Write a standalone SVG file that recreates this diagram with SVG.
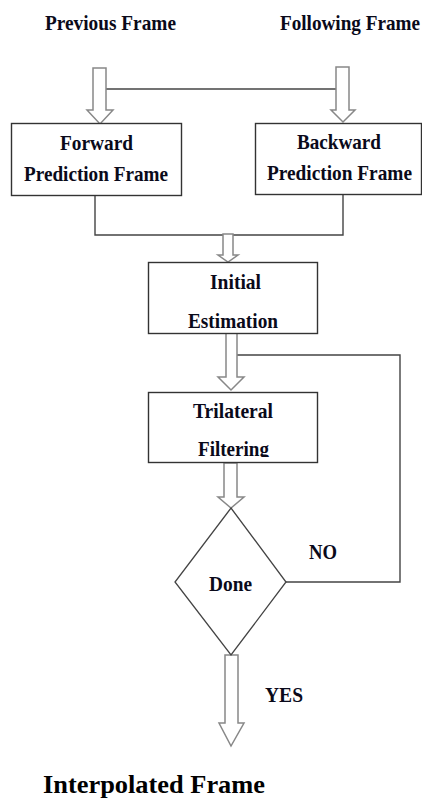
<svg xmlns="http://www.w3.org/2000/svg" width="422" height="798" viewBox="0 0 422 798">
<style>
text{font-family:"Liberation Serif","Times New Roman",serif;font-weight:bold;font-size:21px;fill:#0a0a1a;}
.big{font-size:25px;fill:#000;}
.box{fill:#fff;stroke:#333;stroke-width:1.4;}
.ln{fill:none;stroke:#444;stroke-width:1.4;}
.ba{fill:#fff;stroke:#888;stroke-width:1.5;stroke-linejoin:miter;}
</style>
<defs>
<clipPath id="clipF"><rect x="148" y="392" width="170" height="65"/></clipPath>
</defs>
<rect width="422" height="798" fill="#fff"/>

<g id="prev-label"><text x="45" y="30" textLength="131" lengthAdjust="spacingAndGlyphs">Previous Frame</text></g>
<g id="next-label"><text x="280" y="30" textLength="140" lengthAdjust="spacingAndGlyphs">Following Frame</text></g>

<g id="connectors">
<polyline class="ln" points="106,89 336,89"/>
<polyline class="ln" points="95,196 95,235 343,235 343,194"/>
<polyline class="ln" points="237,355 400,355 400,582 286,582"/>
<polygon class="ba" points="93,68 106,68 106,110 113,110 100,124 87,110 93,110"/>
<polygon class="ba" points="336,67 349,67 349,110 355,110 343,122 331,110 336,110"/>
<polygon class="ba" points="223,234 233,234 233,255 238,255 228,262 218,255 223,255"/>
<polygon class="ba" points="226,333 237,333 237,377 244,377 231,390 218,377 226,377"/>
<polygon class="ba" points="224,463 237,463 237,497 244,497 231,508 218,497 224,497"/>
<polygon class="ba" points="225,655 238,655 238,723 244,723 231,746 219,723 225,723"/>
</g>

<g id="forward">
<rect class="box" x="11.5" y="123.5" width="170" height="72"/>
<text x="60" y="150" textLength="73" lengthAdjust="spacingAndGlyphs">Forward</text>
<text x="24" y="181" textLength="144" lengthAdjust="spacingAndGlyphs">Prediction Frame</text>
</g>

<g id="backward">
<rect class="box" x="255.5" y="123.5" width="166" height="71"/>
<text x="297" y="149" textLength="84" lengthAdjust="spacingAndGlyphs">Backward</text>
<text x="267" y="180" textLength="145" lengthAdjust="spacingAndGlyphs">Prediction Frame</text>
</g>

<g id="initial">
<rect class="box" x="148.5" y="262.5" width="169" height="71"/>
<text x="210" y="289" textLength="51" lengthAdjust="spacingAndGlyphs">Initial</text>
<text x="188" y="328" textLength="90" lengthAdjust="spacingAndGlyphs">Estimation</text>
</g>

<g id="trilateral">
<rect class="box" x="148.5" y="392.5" width="169" height="70"/>
<text x="193" y="418" textLength="80" lengthAdjust="spacingAndGlyphs">Trilateral</text>
<text x="198" y="456" textLength="71" lengthAdjust="spacingAndGlyphs" clip-path="url(#clipF)">Filtering</text>
</g>

<g id="done">
<polygon points="231,508 286,582 231,655 175,582" fill="#fff" stroke="#444" stroke-width="1.3"/>
<text x="209" y="591" textLength="43" lengthAdjust="spacingAndGlyphs">Done</text>
</g>

<g id="no-label"><text x="309" y="559" textLength="28" lengthAdjust="spacingAndGlyphs">NO</text></g>
<g id="yes-label"><text x="265" y="702" textLength="38" lengthAdjust="spacingAndGlyphs">YES</text></g>
<g id="output-label"><text class="big" x="43" y="793" textLength="222" lengthAdjust="spacingAndGlyphs">Interpolated Frame</text></g>
</svg>
